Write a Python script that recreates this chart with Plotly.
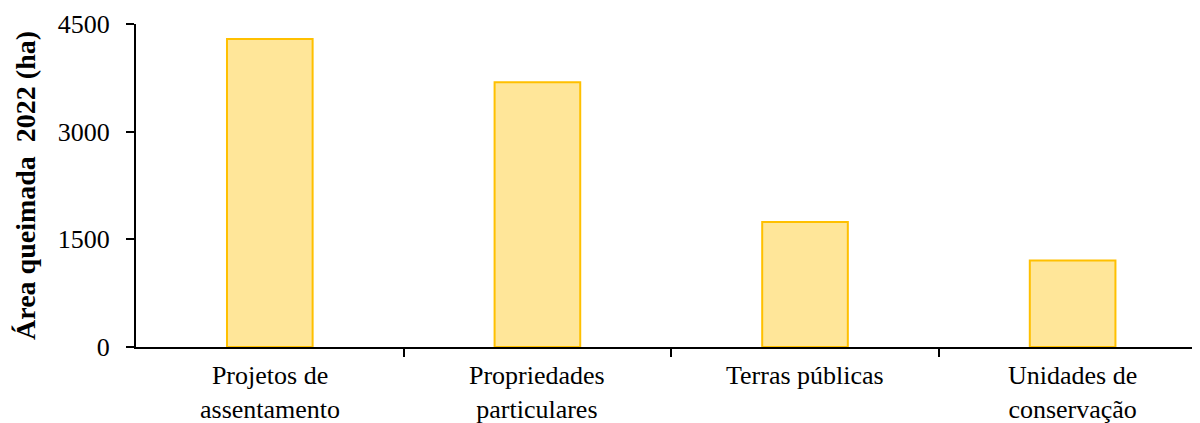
import plotly.graph_objects as go

categories = ["Projetos de<br>assentamento", "Propriedades<br>particulares", "Terras públicas", "Unidades de<br>conservação"]
values = [4290, 3690, 1740, 1205]
y_ticks = [0, 1500, 3000, 4500]

fig = go.Figure()
fig.add_trace(go.Bar(
    x=list(range(len(categories))),
    y=values,
    marker=dict(color="#FFE699", line=dict(color="#FFC000", width=2)),
    width=0.32,
))

fig.update_layout(
    width=1192, height=415,
    margin=dict(l=128, r=0, t=16, b=76),
    paper_bgcolor="white", plot_bgcolor="white",
    font=dict(family="Liberation Serif", size=26, color="black"),
    showlegend=False,
    xaxis=dict(
        range=[-0.5, 3.476],
        tickmode="array",
        tickvals=[0.5, 1.5, 2.5],
        ticktext=["", "", ""],
        ticks="outside", ticklen=8, tickwidth=2, tickcolor="black",
        showline=True, linecolor="black", linewidth=2,
        showgrid=False, zeroline=False,
    ),
    yaxis=dict(
        range=[0, 4500],
        tickmode="array", tickvals=y_ticks,
        ticks="outside", ticklen=8, tickwidth=2, tickcolor="black",
        showline=True, linecolor="black", linewidth=2,
        showgrid=False, zeroline=False,
        ticklabelstandoff=11,
        tickfont=dict(size=26),
        title=dict(text="<b>Área queimada\u00a0 2022 (ha)</b>", font=dict(size=28), standoff=14),
    ),
)

for i, c in enumerate(categories):
    fig.add_annotation(x=i, y=0, xref="x", yref="y", text=c, showarrow=False,
                       yanchor="top", yshift=-12, font=dict(size=26))

fig.write_html("out.html")
